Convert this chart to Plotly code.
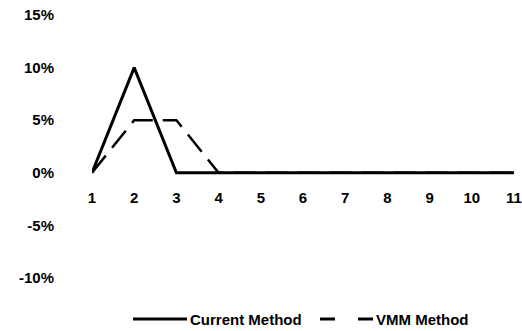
import plotly.graph_objects as go

x_vals = [1, 2, 3, 4, 5, 6, 7, 8, 9, 10, 11]
current_method = [0, 10, 0, 0, 0, 0, 0, 0, 0, 0, 0]
vmm_method = [0, 5, 5, 0, 0, 0, 0, 0, 0, 0, 0]
y_ticks = [-10, -5, 0, 5, 10, 15]
y_tick_labels = ["-10%", "-5%", "0%", "5%", "10%", "15%"]
series_names = ["Current Method", "VMM Method"]

W, H = 522, 331
L, R, T, B = 92, 8, 15, 53
PW, PH = W - L - R, H - T - B

FONT = dict(family="Liberation Sans, Arial, sans-serif", size=15, color="black", weight="bold")


def px(xp):
    return (xp - L) / PW


def py(yp):
    return (H - B - yp) / PH


fig = go.Figure()
fig.add_trace(go.Scatter(x=x_vals, y=current_method, mode="lines", name=series_names[0],
                         line=dict(color="black", width=3), showlegend=False))
fig.add_trace(go.Scatter(x=x_vals, y=vmm_method, mode="lines", name=series_names[1],
                         line=dict(color="black", width=2.5, dash="22px,10px"), showlegend=False))

# legend drawn manually (line keys + labels)
leg_y = 319
shapes = [
    dict(type="line", xref="paper", yref="paper", x0=px(133), x1=px(187), y0=py(leg_y), y1=py(leg_y),
         line=dict(color="black", width=3)),
    dict(type="line", xref="paper", yref="paper", x0=px(320), x1=px(335), y0=py(leg_y), y1=py(leg_y),
         line=dict(color="black", width=3)),
    dict(type="line", xref="paper", yref="paper", x0=px(358), x1=px(373), y0=py(leg_y), y1=py(leg_y),
         line=dict(color="black", width=3)),
]
annotations = [
    dict(text=series_names[0], xref="paper", yref="paper", x=px(188), y=py(leg_y),
         xanchor="left", yanchor="middle", showarrow=False, font=FONT),
    dict(text=series_names[1], xref="paper", yref="paper", x=px(374), y=py(leg_y),
         xanchor="left", yanchor="middle", showarrow=False, font=FONT),
]

fig.update_layout(
    width=W, height=H,
    margin=dict(l=L, r=R, t=T, b=B, autoexpand=False),
    paper_bgcolor="white", plot_bgcolor="white",
    font=FONT,
    showlegend=False,
    shapes=shapes,
    annotations=annotations,
    xaxis=dict(range=[1, 11], tickvals=x_vals, ticktext=[str(v) for v in x_vals],
               showgrid=False, zeroline=False, showline=False,
               anchor="free", position=0.4, ticks="", ticklabelstandoff=14,
               ticklabeloverflow="allow", tickfont=FONT),
    yaxis=dict(range=[-10, 15], tickvals=y_ticks, ticktext=y_tick_labels,
               showgrid=False, zeroline=False, showline=False,
               ticks="", ticklabelstandoff=37, tickfont=FONT),
)

fig.write_html("out.html")
